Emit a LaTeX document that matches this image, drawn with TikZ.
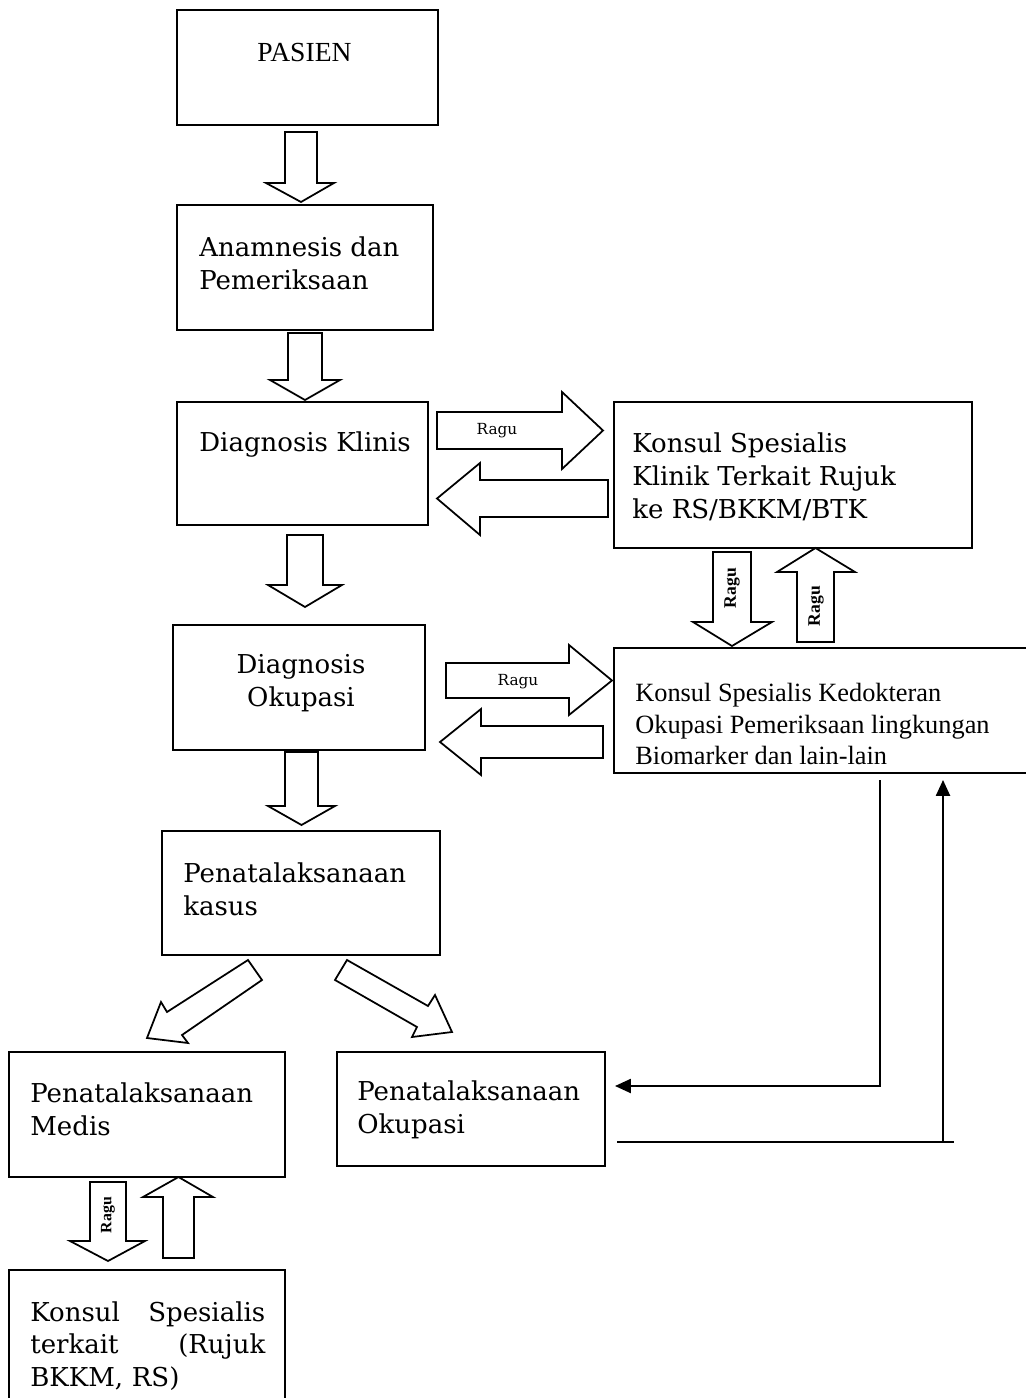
\documentclass[tikz,border=0pt]{standalone}
\usepackage{fontspec}
\setmainfont{DejaVu Serif}
\newfontfamily\tms{Liberation Serif}
\usetikzlibrary{fit,arrows.meta}
\newcommand\vblock[7]{% x1 x2 ystart yhead hx1 hx2 ytip
  \draw[barrow] (#1,#3) -- (#2,#3) -- (#2,#4) -- (#6,#4) -- ({(#1+#2)/2},#7) -- (#5,#4) -- (#1,#4) -- cycle;}
\newcommand\hblock[7]{% xstart xhead y1 y2 hy1 hy2 xtip
  \draw[barrow] (#1,#3) -- (#2,#3) -- (#2,#5) -- (#7,{(#3+#4)/2}) -- (#2,#6) -- (#2,#4) -- (#1,#4) -- cycle;}
\begin{document}
\begin{tikzpicture}[x=0.02cm,y=-0.02cm,
  box/.style={draw, line width=1.1pt, inner sep=0pt, rectangle},
  barrow/.style={draw, line width=1pt, fill=white, line join=miter},
  bk/.style={inner sep=0pt, align=left, font=\fontsize{14.8}{18.7}\selectfont},
  tm/.style={inner sep=0pt, align=left, font=\tms\fontsize{15}{18.1}\selectfont},
  ragu/.style={inner sep=0pt, font=\fontsize{8.7}{10}\selectfont},
  raguv/.style={inner sep=0pt, rotate=90, font=\tms\bfseries\fontsize{10}{12}\selectfont},
  conn/.style={line width=1pt, -{Triangle[length=9pt,width=8pt]}},
  plain/.style={line width=1pt}]
\useasboundingbox (0,0) rectangle (1025,1398);
% boxes
\node[box, fit={(177,10) (438,125)}] (pasien) {};
\node[box, fit={(177,205) (433,330)}] (anam) {};
\node[box, fit={(177,402) (428,525)}] (dk) {};
\node[box, fit={(614,402) (972,548)}] (kk) {};
\node[box, fit={(173,625) (425,750)}] (dok) {};
\node[box, fit={(614,648) (1030,773)}] (kko) {};
\node[box, fit={(162,831) (440,955)}] (pk) {};
\node[box, fit={(9,1052) (285,1177)}] (pm) {};
\node[box, fit={(337,1052) (605,1166)}] (po) {};
\node[box, fit={(9,1270) (285,1410)}] (ks) {};
% texts
\node[tm, anchor=center, font=\tms\fontsize{15.7}{18}\selectfont] (tPasien) at (304.5,53) {PASIEN};
\node[bk, anchor=west] (tAnam) at (199,263.5) {Anamnesis dan\\Pemeriksaan};
\node[bk, anchor=west] (tDk) at (199,445) {Diagnosis Klinis};
\node[bk, anchor=west] (tKk) at (632,476.5) {Konsul Spesialis\\Klinik Terkait Rujuk\\ke RS/BKKM/BTK};
\node[bk, anchor=center, align=center] (tDok) at (301,683) {Diagnosis\\Okupasi};
\node[tm, anchor=west] (tKko) at (635,724) {Konsul Spesialis Kedokteran\\Okupasi Pemeriksaan lingkungan\\Biomarker dan lain-lain};
\node[bk, anchor=west] (tPk) at (183,889.5) {Penatalaksanaan\\kasus};
\node[bk, anchor=west] (tPm) at (30,1109.5) {Penatalaksanaan\\Medis};
\node[bk, anchor=west] (tPo) at (357,1109.5) {Penatalaksanaan\\Okupasi};
\node[bk, anchor=west, text width=4.7cm] (tKs) at (30,1346) {Konsul\hfill Spesialis\\terkait\hfill (Rujuk\\BKKM, RS)};
% vertical block arrows
\vblock{285}{317}{132}{183}{266}{334}{202}
\vblock{288}{322}{333}{380}{270}{340}{400}
\vblock{287}{323}{535}{585}{268}{342}{607}
\vblock{285}{318}{752}{806}{268}{335}{825}
\vblock{713}{751}{552}{622}{693}{772}{646}
\vblock{797}{834}{642}{572}{777}{855}{548}
\vblock{90}{126}{1182}{1241}{70}{145}{1261}
\vblock{163}{194}{1258}{1197}{143}{213}{1177}
% horizontal block arrows
\hblock{437}{562}{412}{449}{392}{469}{603}
\hblock{608}{480}{480}{517}{463}{535}{437}
\hblock{446}{569}{663}{698}{645}{715}{612}
\hblock{603}{481}{726}{758}{709}{775}{440}
% diagonal block arrows
\draw[barrow] (248,960) -- (262,980) -- (182,1035) -- (188,1043) -- (147,1038) -- (161,1002) -- (167,1012) -- cycle;
\draw[barrow] (347,960) -- (335,980) -- (417,1027) -- (412,1037) -- (452,1032) -- (435,995) -- (428,1006) -- cycle;
% Ragu labels
\node[ragu] (r1) at (497,431) {Ragu};
\node[ragu] (r2) at (518,682) {Ragu};
\node[raguv] (r3) at (732,588) {Ragu};
\node[raguv] (r4) at (816,606) {Ragu};
\node[raguv, font=\tms\bfseries\fontsize{9}{11}\selectfont] (r5) at (108,1215) {Ragu};
% line connectors
\coordinate (a1) at (880,780);
\coordinate (a2) at (615,1086);
\coordinate (b1) at (617,1142);
\coordinate (b2) at (943,1142);
\coordinate (b3) at (954,1142);
\coordinate (b4) at (943,780);
\draw[conn] (a1) |- (a2);
\draw[plain] (b1) -- (b3);
\draw[conn] (b2) -- (b4);
\end{tikzpicture}
\end{document}
